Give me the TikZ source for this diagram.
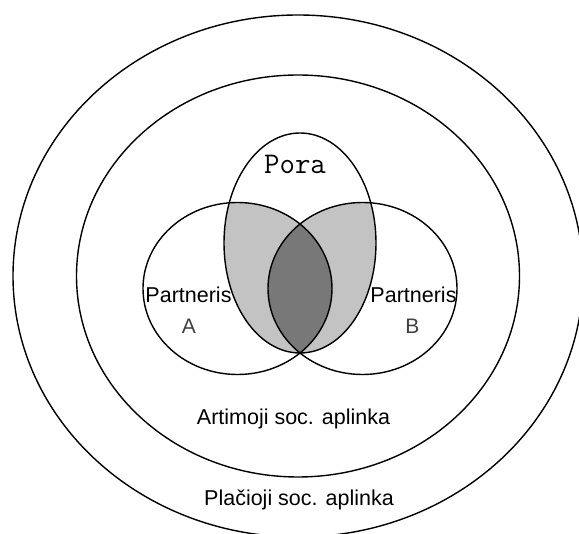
\documentclass[tikz,border=0pt]{standalone}
\usepackage{fontspec}
\setmainfont{Liberation Sans}
\definecolor{overlap}{HTML}{C3C3C3}
\definecolor{core}{HTML}{787878}

\begin{document}
\begin{tikzpicture}[x=1pt,y=-1pt,ring/.style={line width=1.4pt},zone/.style={font=\fontsize{21.5}{24}\selectfont,anchor=base},letter/.style={font=\fontsize{21}{24}\selectfont,anchor=base,text=black!75}]
\useasboundingbox (0,0) rectangle (579,534);
\clip (0,0) rectangle (579,534);
\coordinate (O) at (298,276);
\coordinate (A) at (237.5,288.5);
\coordinate (B) at (362.5,288.5);
\coordinate (P) at (300,243);
% shaded overlaps
\begin{scope}
\clip (P) ellipse [x radius=76,y radius=110];
\fill[overlap] (A) ellipse [x radius=94.5,y radius=86];
\fill[overlap] (B) ellipse [x radius=94.5,y radius=86];
\clip (A) ellipse [x radius=94.5,y radius=86];
\fill[core] (B) ellipse [x radius=94.5,y radius=86];
\end{scope}
\draw[ring] (O) ellipse [x radius=285,y radius=261];
\draw[ring] (O) ellipse [x radius=221.5,y radius=201];
\draw[ring] (A) ellipse [x radius=94.5,y radius=86];
\draw[ring] (B) ellipse [x radius=94.5,y radius=86];
\draw[ring] (P) ellipse [x radius=76,y radius=110];
\node[font=\ttfamily\fontsize{30}{32}\selectfont,anchor=base] (pora) at (295,174) {Pora};
\node[zone] (partA) at (188.5,303) {Partneris};
\node[letter] (letA) at (189,334) {A};
\node[zone] (partB) at (413.5,303) {Partneris};
\node[letter] (letB) at (412.5,334) {B};
\node[zone] (near) at (293.5,425) {Artimoji soc. aplinka};
\node[zone] (wide) at (299,506) {Plačioji soc. aplinka};
\end{tikzpicture}
\end{document}
